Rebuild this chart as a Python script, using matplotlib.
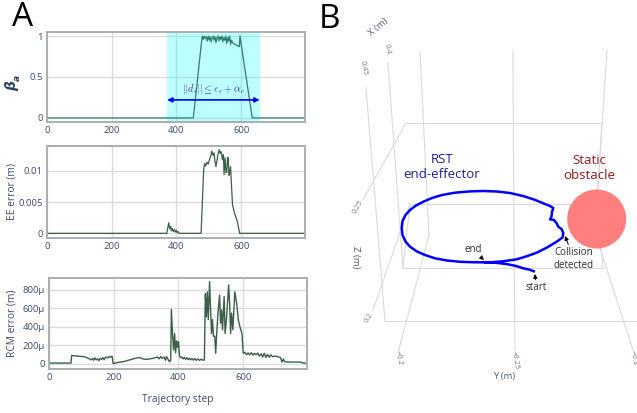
import numpy as np
import matplotlib.pyplot as plt
from matplotlib.patches import Circle

plt.rcParams['font.family'] = ['Open Sans', 'DejaVu Sans']
plt.rcParams['mathtext.fontset'] = 'cm'

# ---- panel A data ----
beta_step = [0, 452, 478, 480, 483, 486, 489, 492, 495, 498, 501, 504, 507, 510, 513, 516, 519,
             522, 525, 528, 531, 534, 537, 540, 543, 546, 549, 552, 555, 558, 561, 564, 567,
             570, 573, 576, 580, 585, 590, 594, 596, 634, 797]
beta_val = [0, 0, 0.95, 1.0, 0.96, 1.0, 0.97, 0.99, 0.94, 1.0, 0.95, 0.99, 0.93, 0.98, 1.0, 0.95, 0.99,
            0.92, 0.98, 1.0, 0.94, 0.99, 0.96, 1.0, 0.93, 0.98, 0.95, 1.0, 0.91, 0.98, 0.94, 1.0, 0.9,
            0.95, 0.92, 0.91, 0.9, 0.89, 0.88, 0.87, 1.0, 0, 0]

ee_step = [0, 370, 376, 379, 382, 384, 387, 390, 393, 396, 399, 402, 405, 408, 476, 484, 487, 490,
           494, 498, 502, 506, 509, 513, 516, 519, 522, 526, 529, 532, 535, 538, 542, 545, 547, 550,
           553, 555, 558, 560, 562, 564, 567, 573, 580, 588, 595, 797]
ee_val = [0, 0, 0.0017, 0.0008, 0.0011, 0.0004, 0.0008, 0.0003, 0.0006, 0.0002, 0.0005, 0.0001, 0.0003, 0,
          0, 0.0102, 0.0112, 0.0108, 0.0114, 0.0111, 0.0118, 0.0124, 0.0132, 0.0125, 0.0129, 0.0115,
          0.0107, 0.012, 0.0128, 0.0134, 0.0128, 0.0131, 0.0118, 0.0126, 0.0094, 0.0121, 0.0098, 0.0097,
          0.0122, 0.012, 0.0093, 0.0096, 0.0107, 0.0046, 0.0031, 0.0019, 0, 0]

rcm_step = [0, 68, 70, 90, 110, 125, 130, 135, 138, 142, 146, 150, 154, 158, 162, 166, 170, 175, 180,
            185, 190, 195, 198, 210, 230, 250, 265, 280, 290, 300, 320, 335, 340, 345, 350, 355, 360,
            363, 368, 372, 376, 378, 382, 385, 388, 391, 394, 397, 400, 403, 406, 410, 414, 418, 422,
            426, 430, 434, 438, 442, 446, 450, 455, 460, 465, 470, 476, 480, 483, 486, 489, 492, 496,
            499, 502, 505, 508, 512, 515, 518, 522, 527, 530, 533, 536, 541, 544, 548, 555, 558, 561,
            564, 568, 574, 580, 585, 590, 596, 600, 605, 610, 615, 620, 625, 630, 635, 640, 645, 650,
            655, 660, 665, 670, 675, 680, 685, 690, 700, 710, 715, 720, 724, 728, 735, 760, 780, 785, 797]
rcm_val = [10, 10, 92, 85, 78, 55, 45, 60, 40, 65, 45, 55, 35, 60, 50, 70, 45, 75, 65,
           80, 72, 85, 5, 15, 25, 45, 60, 70, 55, 50, 60, 75, 55, 80, 60, 75, 40,
           80, 50, 25, 40, 590, 300, 150, 330, 120, 250, 180, 240, 90, 70, 75, 55, 72, 50,
           68, 48, 62, 45, 60, 42, 58, 40, 55, 38, 52, 40, 45, 760, 510, 780, 480, 890,
           600, 330, 480, 300, 300, 116, 330, 550, 745, 440, 585, 370, 730, 330, 475, 855, 655, 330,
           550, 370, 780, 650, 475, 400, 330, 116, 125, 100, 120, 98, 122, 96, 115, 100, 118, 85,
           110, 75, 115, 70, 105, 72, 100, 80, 85, 75, 70, 20, 55, 25, 22, 20, 20, 10, 8]

band = (371, 657)
xticks = [0, 200, 400, 600]
xmax = 797

# ---- panel B data (screen projection of the 3D scene) ----
traj_y = [535, 529, 523.3, 516, 508, 498, 490, 475, 460, 447, 435, 425, 417, 410, 405.5, 402.5,
          401.7, 402.5, 405.5, 410, 416, 423.3, 432, 442, 455, 470, 483, 497, 510, 523, 534,
          543.3, 550, 553.3, 552, 551.5, 550, 554, 556.7, 558.3, 561.7, 563.3, 562.5, 556.7, 547,
          536.7, 526, 516.7, 503, 490, 484]
traj_z = [271.7, 269.5, 268.3, 266, 264.3, 263, 262.3, 262.3, 261.8, 260.5, 258.3, 255, 251.5,
          246.7, 241.5, 235, 228, 221, 215, 210, 205.5, 201.7, 198, 195, 192.7, 191.4, 191, 191.5,
          193, 196, 199.5, 203.3, 206, 208, 212, 216.7, 219.3, 220, 223.3, 226.7, 229.3, 233,
          237.5, 241.7, 247.5, 252.7, 256.5, 259.3, 261.3, 262.3, 262.5]
obstacle = (596.7, 219, 29.5)

grid_lines = [
    [(406, 123), (602, 123)], [(410, 204), (597, 204)], [(403, 268), (603, 268)],
    [(385, 321), (637, 321)], [(406, 123), (363, 200)], [(410, 204), (373, 310)],
    [(410, 204), (403, 268)], [(602, 123), (597, 204)], [(597, 204), (603, 268)],
    [(366, 88), (385, 321)], [(388, 63), (403, 268)],
    [(420, 52), (429, 235)], [(429, 235), (398, 353)],
    [(513, 50), (514, 240)], [(514, 240), (515, 350)],
    [(607, 50), (595, 233)], [(595, 233), (634, 353)],
]

tick_col = '#3b4a6b'
frame_col = '#a7b0ae'

fig = plt.figure(figsize=(6.37, 4.13), dpi=100)
W, H = 637, 413


def panel(x0, y0, x1, y1):
    ax = fig.add_axes([x0 / W, 1 - y1 / H, (x1 - x0) / W, (y1 - y0) / H])
    ax.set_xlim(0, xmax)
    ax.set_xticks(xticks)
    ax.grid(color='#dcdcdc', lw=1)
    ax.set_axisbelow(True)
    ax.tick_params(length=0, labelsize=6.8, colors=tick_col, pad=3)
    for s in ax.spines.values():
        s.set_color(frame_col)
        s.set_linewidth(1.4)
    return ax


ax1 = panel(47, 32, 305, 122)
ax1.axvspan(*band, color='#00ffff', alpha=0.26, lw=0)
ax1.plot(beta_step, beta_val, color='#2e7d6b', lw=0.9)
ax1.set_ylim(-0.05, 1.05)
ax1.set_yticks([0, 0.5, 1])
ax1.set_yticklabels(['0', '0.5', '1'])
ax1.annotate('', xy=(band[0], 0.22), xytext=(band[1], 0.22),
             arrowprops=dict(arrowstyle='<|-|>', color='#0000ff', lw=1.2, mutation_scale=7,
                             shrinkA=0, shrinkB=0))
ax1.text(sum(band) / 2, 0.35, r'$||d_i|| \leq \epsilon_c + \alpha_c$', color='#3434a8',
         fontsize=7.5, ha='center', va='center')
fig.text(12.5 / W, 1 - 86 / H, 'β', fontsize=10, fontweight='bold', fontstyle='italic',
         family='DejaVu Sans', color='#2a3f5f', rotation=90, ha='center', va='center')
fig.text(17 / W, 1 - 77.5 / H, 'a', fontsize=6.5, fontweight='bold', fontstyle='italic',
         family='DejaVu Sans', color='#2a3f5f', rotation=90, ha='center', va='center')

ax2 = panel(47, 146, 305, 237.7)
ax2.plot(ee_step, ee_val, color='#3a5f45', lw=0.9)
ax2.set_ylim(-0.0007, 0.014)
ax2.set_yticks([0, 0.005, 0.01])
ax2.set_yticklabels(['0', '0.005', '0.01'])
ax2.set_ylabel('EE error (m)', fontsize=7.4, color=tick_col)
ax2.yaxis.set_label_coords((17.5 - 47) / 258, 0.5)

ax3 = panel(49, 277.7, 307, 368.7)
ax3.plot(rcm_step, rcm_val, color='#3a5f45', lw=1.0)
ax3.set_ylim(-51, 933)
ax3.set_yticks([0, 200, 400, 600, 800])
ax3.set_yticklabels(['0', '200μ', '400μ', '600μ', '800μ'])
ax3.set_ylabel('RCM error (m)', fontsize=7.4, color=tick_col)
ax3.yaxis.set_label_coords((17.5 - 49) / 258, 0.5)
ax3.set_xlabel('Trajectory step', fontsize=7.4, color=tick_col, labelpad=9)

# ---- panel B ----
axb = fig.add_axes([320 / W, 0, (W - 320) / W, 1])
axb.set_xlim(320, W)
axb.set_ylim(H, 0)
axb.axis('off')
for seg in grid_lines:
    (xa, ya), (xb, yb) = seg
    axb.plot([xa, xb], [ya, yb], color='#dadada', lw=0.8, zorder=1)

axb.add_patch(Circle(obstacle[:2], obstacle[2], color='#ff7f7f', lw=0, zorder=2))
axb.plot(traj_y, traj_z, color='#0000ff', lw=1.8, zorder=3, solid_capstyle='butt')

small = dict(fontsize=5.4, color='#6a7690', ha='center', va='center')
axb.text(363, 68, '0.45', rotation=-80, **small)
axb.text(387, 49, '0.4', rotation=-80, **small)
axb.text(358, 207, '0.25', rotation=60, **small)
axb.text(369, 318, '0.2', rotation=60, **small)
axb.text(398, 358, '\u22120.2', rotation=-80, **small)
axb.text(515, 360, '\u22120.25', rotation=-80, **small)
axb.text(633, 358, '\u22120.3', rotation=-80, **small)
axb.text(378, 27, 'X (m)', rotation=40, fontsize=6.8, color='#4a5a7a', ha='center', va='center')
axb.text(355, 257, 'Z (m)', rotation=-90, fontsize=6.8, color='#4a5a7a', ha='center', va='center')
axb.text(504, 377, 'Y (m)', fontsize=6.8, color='#4a5a7a', ha='center', va='center')

axb.text(442, 167, 'RST\nend-effector', fontsize=9.5, color='#1f1f8a', ha='center', va='center',
         linespacing=1.15)
axb.text(589, 168, 'Static\nobstacle', fontsize=9.5, color='#8b1a1a', ha='center', va='center',
         linespacing=1.15)

arrow = dict(arrowstyle='-|>', color='black', lw=0.7, mutation_scale=6, shrinkA=0, shrinkB=0)
ann = dict(fontsize=7, color='#2b2b2b', ha='center', va='center')
axb.annotate('end', xy=(484, 260), xytext=(473, 250), arrowprops=arrow, **ann)
axb.annotate('start', xy=(535, 274), xytext=(536, 288), arrowprops=arrow, **ann)
axb.annotate('Collision\ndetected', xy=(565, 236), xytext=(574, 259), arrowprops=arrow,
             linespacing=1.2, **ann)

fig.text(23 / W, 1 - 18 / H, 'A', fontsize=24, ha='center', va='center')
fig.text(330 / W, 1 - 19 / H, 'B', fontsize=24, ha='center', va='center')

fig.savefig('out.png', dpi=100)
